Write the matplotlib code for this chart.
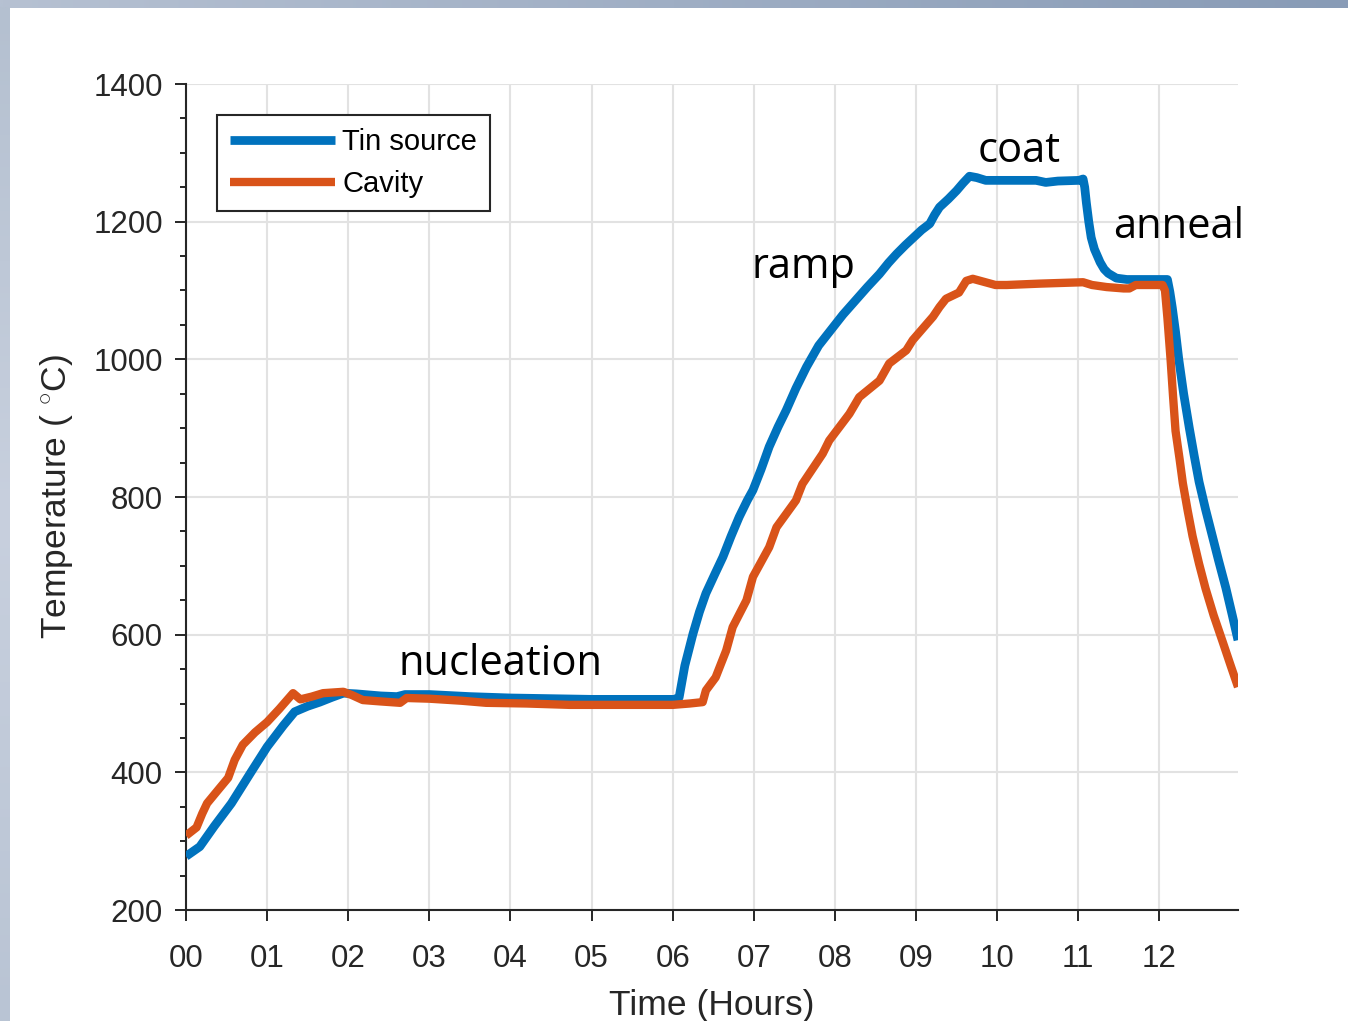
import numpy as np
import matplotlib
matplotlib.use("Agg")
import matplotlib.pyplot as plt
from matplotlib.ticker import MultipleLocator

# Furnace log: tin source and cavity temperatures over the coating run
hours_tin = [0, 0.17, 0.35, 0.56, 0.8, 1.0, 1.2, 1.34, 1.5, 1.65, 1.8, 1.94,
             2.1, 2.4, 2.6, 2.7, 3.0, 3.5, 4.0, 4.5, 5.0, 5.5, 6.02, 6.08,
             6.15, 6.25, 6.33, 6.41, 6.52, 6.62, 6.72, 6.82, 6.92, 6.99, 7.09,
             7.19, 7.30, 7.40, 7.52, 7.65, 7.80, 7.98, 8.10, 8.22, 8.40, 8.55,
             8.66, 8.76, 8.87, 8.97, 9.07, 9.17, 9.23, 9.29, 9.40, 9.50, 9.58,
             9.66, 9.75, 9.86, 10.19, 10.48, 10.6, 10.75, 11.01, 11.06, 11.08,
             11.1, 11.13, 11.16, 11.2, 11.27, 11.32, 11.37, 11.47, 11.6, 11.9,
             12.1, 12.13, 12.16, 12.2, 12.24, 12.3, 12.37, 12.43, 12.49, 12.57,
             12.65, 12.73, 12.82, 12.9, 12.97]
temp_tin = [278, 292, 322, 355, 400, 437, 468, 488, 496, 502, 509, 515,
            514, 511, 510, 513, 513, 510, 508, 507, 506, 506, 506, 509,
            555, 601, 633, 660, 688, 713, 743, 771, 795, 810, 840,
            873, 902, 926, 958, 989, 1020, 1047, 1065, 1081, 1105, 1124,
            1140, 1153, 1166, 1177, 1188, 1197, 1210, 1221, 1233, 1245, 1256,
            1266, 1264, 1260, 1260, 1260, 1257, 1259, 1260, 1262, 1250,
            1228, 1200, 1177, 1160, 1141, 1131, 1125, 1118, 1116, 1116,
            1116, 1098, 1075, 1040, 1000, 950, 900, 860, 822, 782,
            745, 708, 668, 628, 592]

hours_cav = [0, 0.13, 0.2, 0.26, 0.4, 0.52, 0.6, 0.7, 0.85, 1.0, 1.15, 1.32,
             1.41, 1.55, 1.69, 1.94, 2.05, 2.18, 2.4, 2.64, 2.72, 3.0, 3.4,
             3.7, 4.2, 4.73, 5.2, 5.6, 6.0, 6.21, 6.37, 6.41, 6.53, 6.66, 6.74,
             6.91, 6.99, 7.19, 7.28, 7.52, 7.60, 7.85, 7.93, 8.18, 8.30, 8.55,
             8.67, 8.88, 8.96, 9.21, 9.29, 9.37, 9.53, 9.62, 9.70, 9.98, 10.12,
             10.53, 11.06, 11.17, 11.35, 11.56, 11.63, 11.71, 12.04, 12.07,
             12.1, 12.14, 12.17, 12.2, 12.25, 12.29, 12.35, 12.41, 12.49, 12.57,
             12.67, 12.78, 12.88, 12.97]
temp_cav = [308, 320, 340, 355, 375, 392, 418, 440, 458, 473, 492, 515,
            506, 510, 515, 517, 512, 505, 503, 501, 508, 507, 504,
            501, 500, 498, 498, 498, 498, 500, 502, 519, 538, 577, 611,
            650, 684, 727, 756, 795, 819, 863, 882, 921, 945, 969,
            994, 1013, 1028, 1062, 1076, 1088, 1097, 1114, 1117, 1108, 1108,
            1110, 1112, 1108, 1105, 1103, 1103, 1108, 1108, 1100,
            1060, 998, 945, 896, 855, 820, 780, 743, 703, 667,
            628, 590, 555, 524]

hour_ticks = list(range(13))
hour_labels = [f"{h:02d}" for h in hour_ticks]

phase_labels = ["nucleation", "ramp", "coat", "anneal"]
phase_hours = [2.614, 6.967, 9.766, 11.43]
phase_temps = [541, 1118, 1286, 1176]

plt.rcParams["font.family"] = ["Liberation Sans", "DejaVu Sans"]
plt.rcParams["mathtext.fontset"] = "custom"
plt.rcParams["mathtext.rm"] = "Liberation Sans"
plt.rcParams["mathtext.it"] = "Liberation Sans:italic"

W, H = 1348, 1021
fig = plt.figure(figsize=(W / 100, H / 100), dpi=100)
fig.patch.set_facecolor("white")

# slide frame: bars along the top and left edges
bg = fig.add_axes([0, 0, 1, 1], zorder=-10)
bg.set_xlim(0, W)
bg.set_ylim(H, 0)
bg.axis("off")
top_grad = np.linspace(0, 1, 256)
c0 = np.array([182, 193, 210]) / 255
c1 = np.array([136, 155, 182]) / 255
top_img = (c0[None, None, :] * (1 - top_grad)[None, :, None]
           + c1[None, None, :] * top_grad[None, :, None])
bg.imshow(top_img, extent=(0, W, 8, 0), aspect="auto", interpolation="bilinear")
lv = np.linspace(0, 1, 256)
cl_top = np.array([180, 192, 208]) / 255
cl_mid = np.array([200, 208, 222]) / 255
cl_bot = np.array([185, 196, 212]) / 255
wt = np.clip(1 - 2 * lv, 0, 1)
wb = np.clip(2 * lv - 1, 0, 1)
wm = 1 - wt - wb
left_img = (cl_top[None, :] * wt[:, None] + cl_mid[None, :] * wm[:, None]
            + cl_bot[None, :] * wb[:, None])[:, None, :]
bg.imshow(left_img, extent=(0, 10, H, 8), aspect="auto", interpolation="bilinear")

ax = fig.add_axes([186 / W, (H - 910) / H, 1052 / W, 826 / H])
ax.set_facecolor("white")

ax.plot(hours_tin, temp_tin, color="#0072BD", lw=6.3, solid_joinstyle="round",
        solid_capstyle="butt", label="Tin source", zorder=3)
ax.plot(hours_cav, temp_cav, color="#D95319", lw=6.0, solid_joinstyle="round",
        solid_capstyle="butt", label="Cavity", zorder=4)

ax.set_xlim(0, 12.97)
ax.set_ylim(200, 1400)
ax.set_xticks(hour_ticks, hour_labels)
ax.yaxis.set_major_locator(MultipleLocator(200))
ax.yaxis.set_minor_locator(MultipleLocator(50))

ink = "#262626"
for side in ("top", "right"):
    ax.spines[side].set_visible(False)
for side in ("left", "bottom"):
    ax.spines[side].set_color(ink)
    ax.spines[side].set_linewidth(1.5)

ax.tick_params(axis="both", which="major", direction="out", length=7.7,
               width=1.4, colors=ink, labelsize=22.5)
ax.tick_params(axis="x", which="major", pad=16.5)
ax.tick_params(axis="y", which="major", pad=9)
ax.tick_params(axis="y", which="minor", direction="out", length=4.1,
               width=1.4, colors=ink)
ax.tick_params(axis="x", which="minor", bottom=False)

ax.grid(True, which="major", color="#e2e2e2", lw=1.5)
ax.set_axisbelow(True)

ax.set_xlabel("Time (Hours)", fontsize=25.5, color=ink, labelpad=11)
ax.set_ylabel("Temperature ( $^{\\circ}$C)", fontsize=25.5, color=ink, labelpad=13)

leg = ax.legend(loc="upper left", bbox_to_anchor=(0.0295, 0.9625),
                borderaxespad=0, fontsize=21, frameon=True, fancybox=False,
                edgecolor=ink, framealpha=1, handlelength=3.6,
                handletextpad=0.25, borderpad=0.45, labelspacing=0.47)
leg.get_frame().set_linewidth(1.5)
for t in leg.get_texts():
    t.set_color("black")

for label, hx, ty in zip(phase_labels, phase_hours, phase_temps):
    ax.text(hx, ty, label, fontfamily=["Open Sans", "DejaVu Sans"], fontsize=30,
            color="black", ha="left", va="baseline", zorder=5)

fig.savefig("out.png", dpi=100, facecolor="white")
